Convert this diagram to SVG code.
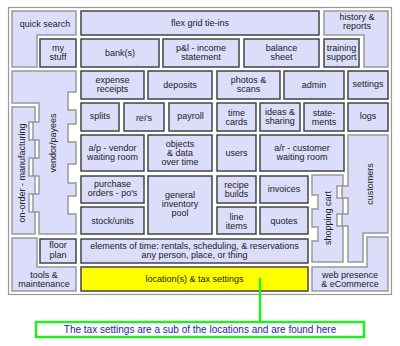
<svg xmlns="http://www.w3.org/2000/svg" width="400" height="346" viewBox="0 0 400 346">
<style>
.c{fill:#dcdcfb;stroke:#444;stroke-width:1.5}
.l{fill:#dcdcfb;stroke:#999;stroke-width:1.5}
.y{fill:#ffff00;stroke:#444;stroke-width:1.5}
text{font-family:"Liberation Sans",Arial,sans-serif;font-size:9px;fill:#222;text-anchor:middle}
.note{font-size:10px;fill:#1c1cb8}
</style>
<rect x="8.5" y="7.5" width="383" height="287" fill="#fff" stroke="#999" stroke-width="1.2"/>
<g id="quick-search"><path class="l" d="M12,11 H76 V35 H37 V67 H12 Z"/><text x="45" y="27">quick search</text></g>
<g id="flex-grid"><rect class="c" x="81" y="11" width="238" height="24"/><text x="200" y="26">flex grid tie-ins</text></g>
<g id="history"><path class="l" d="M324,11 H388 V67 H364 V35 H324 Z"/><text x="357" y="20">history &amp;</text><text x="357" y="29">reports</text></g>
<g id="my-stuff"><rect class="c" x="40" y="39" width="36" height="28"/><text x="58" y="51">my</text><text x="58" y="60">stuff</text></g>
<g id="banks"><rect class="c" x="81" y="39" width="78" height="28"/><text x="120" y="56">bank(s)</text></g>
<g id="pl"><rect class="c" x="163" y="39" width="76" height="28"/><text x="201" y="51">p&amp;l - income</text><text x="201" y="60">statement</text></g>
<g id="balance"><rect class="c" x="244" y="39" width="75" height="28"/><text x="281.5" y="51">balance</text><text x="281.5" y="60">sheet</text></g>
<g id="training"><rect class="c" x="324" y="39" width="35" height="28"/><text x="341.5" y="51">training</text><text x="341.5" y="60">support</text></g>
<g id="vendor"><path class="l" d="M12,71 H76 V92 H68 V110 H76 V124 H68 V142 H76 V164 H68 V183 H76 V196 H68 V214 H76 V234 H39 V212 H33 V194 H39 V176 H33 V158 H39 V140 H33 V122 H39 V103 H12 Z"/><text transform="translate(56,143) rotate(-90)">vendor/payees</text></g>
<g id="on-order"><path class="l" d="M12,107 H35 V122 H29 V140 H35 V158 H29 V176 H35 V194 H29 V212 H35 V234 H12 Z"/><text transform="translate(25,173) rotate(-90)">on-order - manufacturing</text></g>
<g id="expense"><rect class="c" x="81" y="71" width="63" height="28"/><text x="112.5" y="83">expense</text><text x="112.5" y="92">receipts</text></g>
<g id="deposits"><rect class="c" x="148" y="71" width="64" height="28"/><text x="180" y="88">deposits</text></g>
<g id="photos"><rect class="c" x="217" y="71" width="63" height="28"/><text x="248.5" y="83">photos &amp;</text><text x="248.5" y="92">scans</text></g>
<g id="admin"><rect class="c" x="284" y="71" width="60" height="28"/><text x="314" y="88">admin</text></g>
<g id="settings"><rect class="c" x="348" y="71" width="40" height="28"/><text x="368" y="87">settings</text></g>
<g id="splits"><rect class="c" x="81" y="103" width="38" height="28"/><text x="100" y="119">splits</text></g>
<g id="reis"><rect class="c" x="124" y="103" width="40" height="28"/><text x="144" y="121">rei's</text></g>
<g id="payroll"><rect class="c" x="169" y="103" width="43" height="28"/><text x="190.5" y="119">payroll</text></g>
<g id="time-cards"><rect class="c" x="217" y="103" width="39" height="28"/><text x="236.5" y="116">time</text><text x="236.5" y="125">cards</text></g>
<g id="ideas"><rect class="c" x="260" y="103" width="40" height="28"/><text x="280" y="115">ideas &amp;</text><text x="280" y="124">sharing</text></g>
<g id="statements"><rect class="c" x="304" y="103" width="40" height="28"/><text x="324" y="116">state-</text><text x="324" y="125">ments</text></g>
<g id="logs"><rect class="c" x="348" y="103" width="40" height="28"/><text x="368" y="119">logs</text></g>
<g id="ap"><rect class="c" x="81" y="135" width="63" height="36"/><text x="112.5" y="151">a/p - vendor</text><text x="112.5" y="160">waiting room</text></g>
<g id="objects"><rect class="c" x="148" y="135" width="64" height="36"/><text x="180" y="147">objects</text><text x="180" y="156">&amp; data</text><text x="180" y="165">over time</text></g>
<g id="users"><rect class="c" x="217" y="135" width="39" height="36"/><text x="236.5" y="156">users</text></g>
<g id="ar"><rect class="c" x="260" y="135" width="84" height="36"/><text x="302" y="151">a/r - customer</text><text x="302" y="160">waiting room</text></g>
<g id="customers"><path class="l" d="M348,135 H388 V233 H363 V262 H348 V226 H342 V214 H348 V198 H342 V186 H348 Z"/><text transform="translate(373,184) rotate(-90)">customers</text></g>
<g id="po"><rect class="c" x="81" y="176" width="63" height="27"/><text x="112.5" y="187">purchase</text><text x="112.5" y="196">orders - po's</text></g>
<g id="stock"><rect class="c" x="81" y="207" width="63" height="27"/><text x="112.5" y="224">stock/units</text></g>
<g id="inventory"><rect class="c" x="148" y="176" width="64" height="58"/><text x="180" y="198">general</text><text x="180" y="207">inventory</text><text x="180" y="216">pool</text></g>
<g id="recipe"><rect class="c" x="217" y="176" width="39" height="27"/><text x="236.5" y="188">recipe</text><text x="236.5" y="197">builds</text></g>
<g id="line-items"><rect class="c" x="217" y="207" width="39" height="27"/><text x="236.5" y="219.5">line</text><text x="236.5" y="228.5">items</text></g>
<g id="invoices"><rect class="c" x="260" y="176" width="48" height="27"/><text x="284" y="192">invoices</text></g>
<g id="quotes"><rect class="c" x="260" y="207" width="48" height="27"/><text x="284" y="223.5">quotes</text></g>
<g id="shopping-cart"><path class="l" d="M312,175 H343 V186 H337 V198 H343 V214 H337 V226 H343 V262 H312 V241 H318 V227 H312 V209 H318 V195 H312 Z"/><text transform="translate(331,218) rotate(-90)">shopping cart</text></g>
<g id="floor-plan"><rect class="c" x="40" y="239" width="36" height="24"/><text x="58" y="248">floor</text><text x="58" y="258">plan</text></g>
<g id="elements"><rect class="c" x="81" y="239" width="227" height="24"/><text x="194.5" y="249">elements of time: rentals, scheduling, &amp; reservations</text><text x="194.5" y="258">any person, place, or thing</text></g>
<g id="tools"><path class="l" d="M12,238 H37 V267 H76 V291 H12 Z"/><text x="44" y="278">tools &amp;</text><text x="44" y="287">maintenance</text></g>
<g id="location"><rect class="y" x="81" y="267" width="227" height="24"/><text x="194.5" y="282">location(s) &amp; tax settings</text></g>
<g id="web"><path class="l" d="M312,267 H367 V237 H388 V291 H312 Z"/><text x="350" y="278">web presence</text><text x="350" y="287">&amp; eCommerce</text></g>
<g id="connectors"><line x1="260" y1="278" x2="260" y2="322" stroke="#22ee22" stroke-width="2.5"/></g>
<g id="callout"><rect x="36" y="322" width="328" height="15" fill="#fff" stroke="#22ee22" stroke-width="2.5"/><text class="note" x="200" y="333">The tax settings are a sub of the locations and are found here</text></g>
</svg>
